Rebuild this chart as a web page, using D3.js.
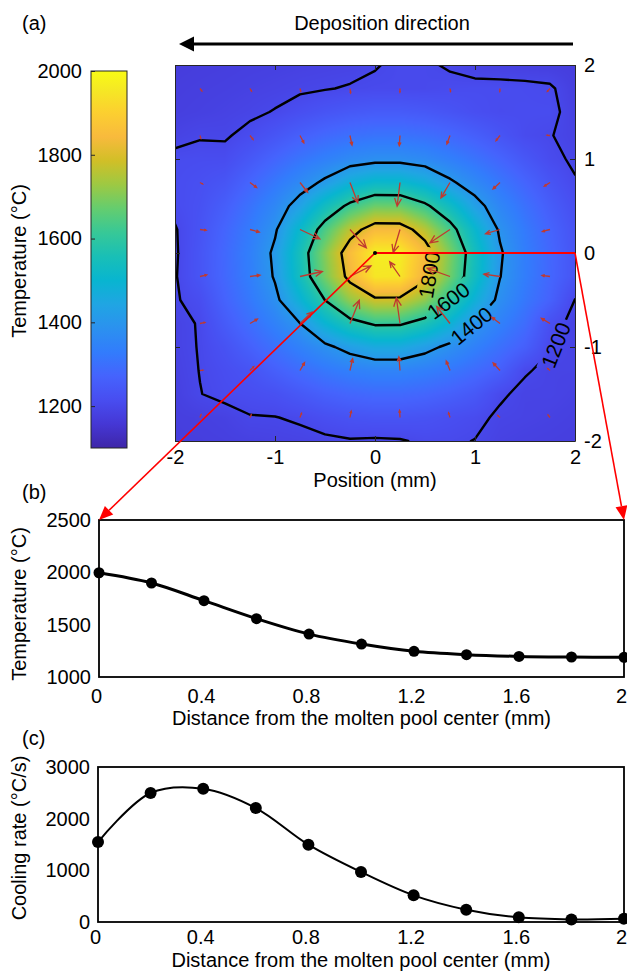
<!DOCTYPE html>
<html lang="en">
<head>
<meta charset="UTF-8">
<title>Molten pool temperature field</title>
<script src="https://d3js.org/d3.v7.min.js"></script>
<style>
  body { margin: 0; background: #fff; }
  svg { display: block; font-family: "Liberation Sans", Arial, Helvetica, sans-serif; }
  .lbl { font-size: 20px; fill: #000; }
  .clabel { font-size: 21px; }
  .axis text { font-size: 20px; fill: #000; font-family: "Liberation Sans", Arial, sans-serif; }
  .heat-axis path, .heat-axis line { stroke: #262626; stroke-width: 1; }
  .xl-axis path, .xl-axis line { stroke: none; }
</style>
</head>
<body>
<svg id="chart" width="627" height="976"></svg>
<script>
// ---------- data ----------
// temperature field (°C), rows from y = 2 mm (top) to y = -2 mm, columns x = -2..2 mm
var heatX = [-2, -1.75, -1.5, -1.25, -1, -0.75, -0.5, -0.25, 0, 0.25, 0.5, 0.75, 1, 1.25, 1.5, 1.75, 2];
var heatY = [2, 1.75, 1.5, 1.25, 1, 0.75, 0.5, 0.25, 0, -0.25, -0.5, -0.75, -1, -1.25, -1.5, -1.75, -2];
var tempGrid = [
  [1171,1174,1176,1179,1181,1184,1186,1188,1198,1206,1205,1196,1184,1181,1179,1176,1174],
  [1175,1178,1181,1185,1189,1194,1198,1203,1206,1206,1205,1210,1212,1212,1210,1206,1177],
  [1178,1182,1187,1193,1202,1218,1233,1244,1251,1251,1244,1232,1218,1210,1212,1212,1182],
  [1188,1197,1196,1211,1235,1261,1283,1299,1308,1308,1299,1282,1260,1234,1210,1202,1187],
  [1210,1212,1212,1242,1276,1310,1339,1365,1379,1379,1365,1338,1308,1275,1240,1210,1194],
  [1212,1220,1235,1275,1318,1364,1414,1478,1512,1511,1476,1412,1362,1316,1274,1234,1203],
  [1210,1225,1258,1305,1358,1433,1535,1620,1678,1676,1617,1531,1429,1356,1303,1256,1217],
  [1197,1230,1275,1326,1391,1511,1639,1762,1844,1842,1758,1634,1506,1389,1324,1273,1228],
  [1195,1235,1283,1337,1414,1549,1703,1851,1967,1965,1846,1698,1544,1409,1334,1281,1233],
  [1197,1234,1281,1334,1407,1541,1688,1828,1951,1948,1822,1682,1536,1402,1332,1279,1232],
  [1196,1215,1270,1320,1381,1486,1601,1718,1783,1781,1715,1596,1482,1379,1318,1268,1199],
  [1188,1203,1250,1295,1343,1399,1494,1568,1611,1610,1565,1490,1397,1341,1293,1220,1185],
  [1188,1202,1227,1264,1303,1342,1383,1426,1457,1457,1424,1382,1341,1301,1262,1203,1188],
  [1184,1201,1215,1231,1261,1291,1318,1338,1351,1350,1337,1317,1290,1260,1204,1190,1190],
  [1180,1199,1210,1215,1223,1243,1264,1278,1286,1286,1278,1263,1243,1206,1190,1191,1185],
  [1177,1180,1185,1198,1199,1205,1218,1228,1233,1233,1228,1218,1210,1193,1189,1185,1180],
  [1175,1176,1179,1183,1186,1189,1193,1197,1195,1197,1206,1205,1199,1186,1182,1179,1176]
];
var contourLevels = [1200, 1400, 1600, 1800];
var colorLimits = [1100, 2000];
var quiverX = [-1.75, -1.25, -0.75, -0.25, 0.25, 0.75, 1.25, 1.75];
var quiverY = [1.75, 1.25, 0.75, 0.25, -0.25, -0.75, -1.25, -1.75];
var heatTicks = [-2, -1, 0, 1, 2];
var colorbarTicks = [1200, 1400, 1600, 1800, 2000];

// profiles along the line from the pool center
var distance = [0, 0.2, 0.4, 0.6, 0.8, 1.0, 1.2, 1.4, 1.6, 1.8, 2.0];
var temperature = [1996, 1898, 1729, 1557, 1410, 1315, 1245, 1213, 1197, 1191, 1188];
var coolingRate = [1548, 2497, 2580, 2206, 1497, 968, 516, 239, 90, 50, 65];
var distTicks = [0, 0.4, 0.8, 1.2, 1.6, 2];
var tempTicks = [1000, 1500, 2000, 2500];
var coolTicks = [0, 1000, 2000, 3000];

// parula colormap anchors (entry index out of 63)
var parulaIdx = [0, 4, 8, 12, 16, 20, 24, 28, 32, 36, 40, 44, 48, 52, 56, 60, 63];
var parulaHex = ["#3e26a8", "#4537d5", "#484df0", "#4563fd", "#327cfc", "#2b91ef", "#20a5e3", "#08b5d0",
                 "#19bfb6", "#37c897", "#64cd6f", "#9dc943", "#d1bf27", "#f8ba3d", "#fccf30", "#f5e924", "#f9fb15"];

var plain = function(d) { return String(d); };
var svg = d3.select("#chart");
var defs = svg.append("defs");

// ---------- panel (a) ----------
var hx = d3.scaleLinear().domain([-2, 2]).range([175, 575]);
var hy = d3.scaleLinear().domain([-2, 2]).range([441, 65]);
var color = d3.scaleLinear()
    .domain(parulaIdx.map(function(i) { return colorLimits[0] + (colorLimits[1] - colorLimits[0]) * i / 63; }))
    .range(parulaHex)
    .clamp(true);

var nx = heatX.length, ny = heatY.length;
var colOf = d3.scaleLinear().domain([heatX[0], heatX[nx - 1]]).range([0, nx - 1]);
var rowOf = d3.scaleLinear().domain([heatY[0], heatY[ny - 1]]).range([0, ny - 1]);

// interpolated shading
function sample(x, y) {
    var fx = Math.max(0, Math.min(nx - 1, colOf(x)));
    var fy = Math.max(0, Math.min(ny - 1, rowOf(y)));
    var i = Math.min(Math.floor(fx), nx - 2), j = Math.min(Math.floor(fy), ny - 2);
    var tx = fx - i, ty = fy - j;
    var a = tempGrid[j][i], b = tempGrid[j][i + 1], c = tempGrid[j + 1][i], d = tempGrid[j + 1][i + 1];
    return (a * (1 - tx) + b * tx) * (1 - ty) + (c * (1 - tx) + d * tx) * ty;
}

var x0 = hx.range()[0], y0 = hy.range()[1];
var W = hx.range()[1] - x0, H = hy.range()[0] - y0;
var canvas = document.createElement("canvas");
canvas.width = W; canvas.height = H;
var ctx = canvas.getContext("2d");
var img = ctx.createImageData(W, H);
for (var py = 0; py < H; py++) {
    for (var px = 0; px < W; px++) {
        var v = sample(hx.invert(x0 + px + 0.5), hy.invert(y0 + py + 0.5));
        var c = d3.rgb(color(v));
        var k = (py * W + px) * 4;
        img.data[k] = c.r; img.data[k + 1] = c.g; img.data[k + 2] = c.b; img.data[k + 3] = 255;
    }
}
ctx.putImageData(img, 0, 0);

defs.append("clipPath").attr("id", "heatClip")
    .append("rect").attr("x", x0).attr("y", y0).attr("width", W).attr("height", H);

svg.append("image")
    .attr("x", x0).attr("y", y0).attr("width", W).attr("height", H)
    .attr("preserveAspectRatio", "none")
    .attr("href", canvas.toDataURL());

// contours (grid padded by edge copies so lines leave the box cleanly)
var padded = [];
for (var j = -1; j <= ny; j++) {
    for (var i = -1; i <= nx; i++) {
        padded.push(tempGrid[Math.max(0, Math.min(ny - 1, j))][Math.max(0, Math.min(nx - 1, i))]);
    }
}
var contours = d3.contours().size([nx + 2, ny + 2]).thresholds(contourLevels)(padded);
var cX = d3.scaleLinear().domain([1.5, nx + 0.5]).range([heatX[0], heatX[nx - 1]]);
var cY = d3.scaleLinear().domain([1.5, ny + 0.5]).range([heatY[0], heatY[ny - 1]]);
function toPx(p) { return [hx(cX(p[0])), hy(cY(p[1]))]; }
var contourPath = d3.geoPath(d3.geoTransform({
    point: function(x, y) { var p = toPx([x, y]); this.stream.point(p[0], p[1]); }
}));

// contour labels: placed where a ray from the pool center meets each line
var labelAngles = [27, 37, 33, 22];
var center = [hx(0), hy(0)];
var labelPos = contours.map(function(cn, n) {
    var ang = labelAngles[n] * Math.PI / 180, dir = [Math.cos(ang), Math.sin(ang)];
    var best = null;
    cn.coordinates.forEach(function(poly) {
        poly.forEach(function(ring) {
            for (var m = 0; m < ring.length - 1; m++) {
                var p = toPx(ring[m]), q = toPx(ring[m + 1]);
                var ex = q[0] - p[0], ey = q[1] - p[1];
                var den = dir[0] * ey - dir[1] * ex;
                if (Math.abs(den) < 1e-9) continue;
                var wx = p[0] - center[0], wy = p[1] - center[1];
                var t = (wx * ey - wy * ex) / den;
                var s = (wx * dir[1] - wy * dir[0]) / den;
                if (t > 0 && s >= 0 && s <= 1 && (!best || t < best.t)) {
                    var a = Math.atan2(ey, ex) * 180 / Math.PI;
                    if (a > 90) a -= 180;
                    if (a <= -90) a += 180;
                    best = { t: t, x: center[0] + t * dir[0], y: center[1] + t * dir[1], a: a };
                }
            }
        });
    });
    return best;
});

var contourLayer = svg.append("g").attr("clip-path", "url(#heatClip)");
var lineLayer = contourLayer.append("g").attr("mask", "url(#labelMask)");
lineLayer.selectAll("path")
    .data(contours)
    .enter().append("path")
    .attr("d", contourPath)
    .attr("fill", "none")
    .attr("stroke", "#000")
    .attr("stroke-width", 2.4)
    .attr("stroke-linejoin", "round");

var labelText = contourLayer.selectAll("text.clabel")
    .data(contours)
    .enter().append("text")
    .attr("class", "lbl clabel")
    .attr("text-anchor", "middle")
    .attr("dominant-baseline", "central")
    .attr("transform", function(d, n) {
        var p = labelPos[n];
        return "translate(" + p.x + "," + p.y + ") rotate(" + p.a + ")";
    })
    .text(function(d) { return d.value; });

var mask = defs.append("mask").attr("id", "labelMask")
    .attr("maskUnits", "userSpaceOnUse")
    .attr("x", 0).attr("y", 0).attr("width", 627).attr("height", 976);
mask.append("rect").attr("width", 627).attr("height", 976).attr("fill", "#fff");
labelText.each(function(d, n) {
    var w = this.getComputedTextLength() + 8, p = labelPos[n];
    mask.append("rect")
        .attr("x", -w / 2).attr("y", -10).attr("width", w).attr("height", 20)
        .attr("transform", "translate(" + p.x + "," + p.y + ") rotate(" + p.a + ")")
        .attr("fill", "#000");
});

// temperature gradient arrows
var quiver = [];
quiverY.forEach(function(y) {
    quiverX.forEach(function(x) {
        var i = heatX.indexOf(x), j = heatY.indexOf(y);
        var gx = (tempGrid[j][i + 1] - tempGrid[j][i - 1]) / (heatX[i + 1] - heatX[i - 1]);
        var gy = (tempGrid[j - 1][i] - tempGrid[j + 1][i]) / (heatY[j - 1] - heatY[j + 1]);
        quiver.push({ x: x, y: y, gx: gx, gy: gy });
    });
});
var maxMag = d3.max(quiver, function(d) { return Math.hypot(d.gx, d.gy); });
var arrowLen = d3.scaleLinear().domain([0, maxMag]).range([0, 26]);
contourLayer.append("g").selectAll("path")
    .data(quiver)
    .enter().append("path")
    .attr("fill", "none")
    .attr("stroke", "#bf3a30")
    .attr("stroke-width", 1.3)
    .attr("d", function(d) {
        var mag = Math.hypot(d.gx, d.gy), L = Math.max(3, arrowLen(mag));
        var ux = d.gx / mag, uy = -d.gy / mag;
        var sx = hx(d.x), sy = hy(d.y), ex = sx + ux * L, ey = sy + uy * L;
        var h = L * 0.36, ca = Math.cos(0.42), sa = Math.sin(0.42);
        var l1 = [ex - h * (ux * ca - uy * sa), ey - h * (uy * ca + ux * sa)];
        var l2 = [ex - h * (ux * ca + uy * sa), ey - h * (uy * ca - ux * sa)];
        return "M" + sx + "," + sy + "L" + ex + "," + ey +
               "M" + l1[0] + "," + l1[1] + "L" + ex + "," + ey + "L" + l2[0] + "," + l2[1];
    });

// heatmap frame & axes (ticks inward)
svg.append("g").attr("class", "heat-axis axis")
    .attr("transform", "translate(0," + hy(-2) + ")")
    .call(d3.axisBottom(hx).tickValues(heatTicks).tickSize(-5).tickSizeOuter(0).tickPadding(9)
        .tickFormat(plain));
svg.append("g").attr("class", "heat-axis")
    .attr("transform", "translate(0," + hy(2) + ")")
    .call(d3.axisTop(hx).tickValues(heatTicks).tickSize(-5).tickSizeOuter(0).tickFormat(""));
svg.append("g").attr("class", "heat-axis")
    .attr("transform", "translate(" + hx(-2) + ",0)")
    .call(d3.axisLeft(hy).tickValues(heatTicks).tickSize(-5).tickSizeOuter(0).tickFormat(""));
svg.append("g").attr("class", "heat-axis axis")
    .attr("transform", "translate(" + hx(2) + ",0)")
    .call(d3.axisRight(hy).tickValues(heatTicks).tickSize(-5).tickSizeOuter(0).tickPadding(9)
        .tickFormat(plain));

svg.append("text").attr("class", "lbl")
    .attr("x", hx(0)).attr("y", 487).attr("text-anchor", "middle")
    .text("Position (mm)");

// colorbar
var cbY = d3.scaleLinear().domain(colorLimits).range([448, 71]);
var grad = defs.append("linearGradient").attr("id", "parula")
    .attr("x1", 0).attr("y1", 1).attr("x2", 0).attr("y2", 0);
parulaIdx.forEach(function(i, n) {
    grad.append("stop").attr("offset", i / 63).attr("stop-color", parulaHex[n]);
});
svg.append("rect")
    .attr("x", 91).attr("y", cbY(colorLimits[1]))
    .attr("width", 36).attr("height", cbY(colorLimits[0]) - cbY(colorLimits[1]))
    .attr("fill", "url(#parula)")
    .attr("stroke", "#262626").attr("stroke-width", 1);
svg.append("g").attr("class", "heat-axis axis")
    .attr("transform", "translate(91,0)")
    .call(d3.axisLeft(cbY).tickValues(colorbarTicks).tickSize(-4).tickSizeOuter(0).tickPadding(9)
        .tickFormat(plain))
    .select(".domain").remove();
svg.append("text").attr("class", "lbl")
    .attr("transform", "translate(26,261) rotate(-90)")
    .attr("text-anchor", "middle")
    .text("Temperature (°C)");

// deposition direction
svg.append("text").attr("class", "lbl").attr("x", 382).attr("y", 30)
    .attr("text-anchor", "middle").text("Deposition direction");
svg.append("line").attr("x1", 573).attr("y1", 44).attr("x2", 190).attr("y2", 44)
    .attr("stroke", "#000").attr("stroke-width", 3);
svg.append("path").attr("d", "M179,44L194,36.5L194,51.5Z").attr("fill", "#000");
svg.append("text").attr("class", "lbl").attr("x", 22).attr("y", 30).text("(a)");

// ---------- panel (b) ----------
var bx = d3.scaleLinear().domain([0, 2]).range([99, 624]);
var by = d3.scaleLinear().domain([1000, 2500]).range([677, 520]);
svg.append("text").attr("class", "lbl").attr("x", 22).attr("y", 499).text("(b)");
svg.append("rect").attr("x", bx(0)).attr("y", by(2500))
    .attr("width", bx(2) - bx(0)).attr("height", by(1000) - by(2500))
    .attr("fill", "none").attr("stroke", "#000").attr("stroke-width", 1.8);
svg.append("g").attr("class", "xl-axis axis")
    .attr("transform", "translate(-3," + by(1000) + ")")
    .call(d3.axisBottom(bx).tickValues(distTicks).tickSize(0).tickPadding(12).tickFormat(plain));
svg.append("g").attr("class", "xl-axis axis")
    .attr("transform", "translate(" + bx(0) + ",0)")
    .call(d3.axisLeft(by).tickValues(tempTicks).tickSize(0).tickPadding(8).tickFormat(plain));
svg.append("path")
    .datum(distance.map(function(d, i) { return [d, temperature[i]]; }))
    .attr("fill", "none").attr("stroke", "#000").attr("stroke-width", 3)
    .attr("d", d3.line().x(function(d) { return bx(d[0]); }).y(function(d) { return by(d[1]); })
        .curve(d3.curveCatmullRom));
svg.append("g").selectAll("circle")
    .data(distance)
    .enter().append("circle")
    .attr("cx", function(d) { return bx(d); })
    .attr("cy", function(d, i) { return by(temperature[i]); })
    .attr("r", 5.5).attr("fill", "#000");
svg.append("text").attr("class", "lbl").attr("x", (bx(0) + bx(2)) / 2).attr("y", 725)
    .attr("text-anchor", "middle").text("Distance from the molten pool center (mm)");
svg.append("text").attr("class", "lbl")
    .attr("transform", "translate(26,604) rotate(-90)").attr("text-anchor", "middle")
    .text("Temperature (°C)");

// ---------- panel (c) ----------
var qx = d3.scaleLinear().domain([0, 2]).range([98, 624]);
var qy = d3.scaleLinear().domain([0, 3000]).range([922, 767]);
svg.append("text").attr("class", "lbl").attr("x", 22).attr("y", 745).text("(c)");
svg.append("rect").attr("x", qx(0)).attr("y", qy(3000))
    .attr("width", qx(2) - qx(0)).attr("height", qy(0) - qy(3000))
    .attr("fill", "none").attr("stroke", "#000").attr("stroke-width", 1.8);
svg.append("g").attr("class", "xl-axis axis")
    .attr("transform", "translate(-3," + qy(0) + ")")
    .call(d3.axisBottom(qx).tickValues(distTicks).tickSize(0).tickPadding(8).tickFormat(plain));
svg.append("g").attr("class", "xl-axis axis")
    .attr("transform", "translate(" + qx(0) + ",0)")
    .call(d3.axisLeft(qy).tickValues(coolTicks).tickSize(0).tickPadding(8).tickFormat(plain));
svg.append("path")
    .datum(distance.map(function(d, i) { return [d, coolingRate[i]]; }))
    .attr("fill", "none").attr("stroke", "#000").attr("stroke-width", 2)
    .attr("d", d3.line().x(function(d) { return qx(d[0]); }).y(function(d) { return qy(d[1]); })
        .curve(d3.curveCatmullRom));
svg.append("g").selectAll("circle")
    .data(distance)
    .enter().append("circle")
    .attr("cx", function(d) { return qx(d); })
    .attr("cy", function(d, i) { return qy(coolingRate[i]); })
    .attr("r", 6).attr("fill", "#000");
svg.append("text").attr("class", "lbl").attr("x", (qx(0) + qx(2)) / 2).attr("y", 967)
    .attr("text-anchor", "middle").text("Distance from the molten pool center (mm)");
svg.append("text").attr("class", "lbl")
    .attr("transform", "translate(26,838) rotate(-90)").attr("text-anchor", "middle")
    .text("Cooling rate (°C/s)");

// ---------- red guide lines from the pool center to panel (b) ----------
var red = "#ff0000";
var tipL = [bx(0), by(2500)], tipR = [bx(2), by(2500)], edge = [hx(2), hy(0)];
function redArrow(from, to) {
    var dx = to[0] - from[0], dy = to[1] - from[1], len = Math.hypot(dx, dy);
    var ux = dx / len, uy = dy / len, hl = 14, hw = 6;
    var bxp = to[0] - ux * hl, byp = to[1] - uy * hl;
    svg.append("line").attr("x1", from[0]).attr("y1", from[1]).attr("x2", bxp).attr("y2", byp)
        .attr("stroke", red).attr("stroke-width", 1.6);
    svg.append("path")
        .attr("d", "M" + to[0] + "," + to[1] + "L" + (bxp - uy * hw) + "," + (byp + ux * hw) +
                   "L" + (bxp + uy * hw) + "," + (byp - ux * hw) + "Z")
        .attr("fill", red);
}
svg.append("line").attr("x1", center[0]).attr("y1", center[1]).attr("x2", edge[0]).attr("y2", edge[1])
    .attr("stroke", red).attr("stroke-width", 1.8);
redArrow(center, tipL);
redArrow(edge, tipR);
svg.append("circle").attr("cx", center[0]).attr("cy", center[1]).attr("r", 2).attr("fill", "#000");
</script>
</body>
</html>
